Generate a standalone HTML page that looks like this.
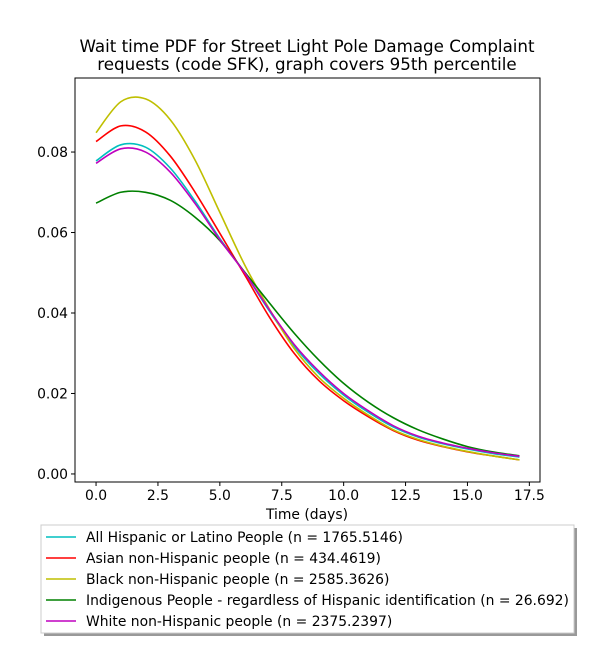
<!DOCTYPE html>
<html><head><meta charset="utf-8"><style>
body{margin:0;background:#fff;}
svg text{font-family:"DejaVu Sans","Liberation Sans",sans-serif;fill:#000;}
</style></head><body>
<svg id="chart" width="600" height="650">
<rect x="0" y="0" width="600" height="650" fill="#fff"/>
<text x="307" y="52" font-size="16.7" text-anchor="middle">Wait time PDF for Street Light Pole Damage Complaint</text>
<text x="307" y="70" font-size="16.7" text-anchor="middle">requests (code SFK), graph covers 95th percentile</text>
<g id="plot"></g>
<text x="307" y="519" font-size="13.9" text-anchor="middle">Time (days)</text>
<g id="legend"></g>
</svg>
<script>
const xs=[0,1,2,3,4,5,6,7,8,9,10,11,12,13,14,15,16,17.1];
const seriesNames=["All Hispanic or Latino People (n = 1765.5146)","Asian non-Hispanic people (n = 434.4619)","Black non-Hispanic people (n = 2585.3626)","Indigenous People - regardless of Hispanic identification (n = 26.692)","White non-Hispanic people (n = 2375.2397)"];
const seriesColors=["#00bfbf","#ff0000","#bfbf00","#008000","#bf00bf"];
const hispanic=[.0778,.0818,.0812,.0760,.0678,.0585,.0500,.0405,.0318,.0250,.0196,.0153,.0117,.0092,.0075,.0062,.0051,.0042];
const asian=[.0826,.0865,.0850,.0790,.0700,.0598,.0495,.0390,.0300,.0232,.0182,.0142,.0108,.0084,.0068,.0055,.0045,.0035];
const black=[.0848,.0925,.0932,.0880,.0780,.0650,.0520,.0410,.0312,.0240,.0188,.0146,.0110,.0086,.0069,.0056,.0045,.0035];
const indigenous=[.0673,.0700,.0700,.0680,.0638,.0580,.0502,.0425,.0350,.0283,.0225,.0178,.0140,.0110,.0087,.0068,.0055,.0045];
const white=[.0772,.0808,.0800,.0750,.0672,.0582,.0500,.0408,.0322,.0255,.0200,.0157,.0120,.0094,.0077,.0064,.0053,.0044];
const xTicks=[0,2.5,5,7.5,10,12.5,15,17.5];
const xTickLabels=["0.0","2.5","5.0","7.5","10.0","12.5","15.0","17.5"];
const yTicks=[0,0.02,0.04,0.06,0.08];
const yTickLabels=["0.00","0.02","0.04","0.06","0.08"];
const allSeries=[hispanic,asian,black,indigenous,white];
const NS="http://www.w3.org/2000/svg";
const L=75,R=540,T=78,B=482;
const xMin=-0.85,xMax=17.93,yMin=-0.002,yMax=0.0984;
const sx=v=>L+(v-xMin)/(xMax-xMin)*(R-L);
const sy=v=>B-(v-yMin)/(yMax-yMin)*(B-T);
const plot=document.getElementById('plot');
function mk(t,a,p){const e=document.createElementNS(NS,t);for(const k in a)e.setAttribute(k,a[k]);(p||plot).appendChild(e);return e;}
function pathFor(ys){const p=xs.map((x,i)=>[sx(x),sy(ys[i])]);let d=`M${p[0][0]},${p[0][1]}`;
for(let i=0;i<p.length-1;i++){const p0=p[Math.max(0,i-1)],p1=p[i],p2=p[i+1],p3=p[Math.min(p.length-1,i+2)];
d+=` C${p1[0]+(p2[0]-p0[0])/6},${p1[1]+(p2[1]-p0[1])/6} ${p2[0]-(p3[0]-p1[0])/6},${p2[1]-(p3[1]-p1[1])/6} ${p2[0]},${p2[1]}`;}return d;}
allSeries.forEach((ys,i)=>{const e=mk('path',{d:pathFor(ys),fill:'none',stroke:seriesColors[i],'stroke-width':1.6});

});
const frame=mk('rect',{x:L,y:T,width:R-L,height:B-T,fill:'none',stroke:'#000','stroke-width':1});


xTicks.forEach((v,i)=>{const x=sx(v);mk('line',{x1:x,x2:x,y1:B,y2:B+4,stroke:'#000'});
const t=mk('text',{x:x,y:B+18,'font-size':13.9,'text-anchor':'middle'});t.textContent=xTickLabels[i];

});
yTicks.forEach((v,i)=>{const y=sy(v);mk('line',{x1:L-4,x2:L,y1:y,y2:y,stroke:'#000'});
const t=mk('text',{x:L-7,y:y+5,'font-size':13.9,'text-anchor':'end'});t.textContent=yTickLabels[i];

});
const lg=document.getElementById('legend');


mk('rect',{x:44,y:528,width:533,height:108,fill:'#999'},lg);
mk('rect',{x:41,y:525,width:533,height:108,fill:'#fff',stroke:'#ccc'},lg);
seriesNames.forEach((n,i)=>{const y=537+i*21;
const l=mk('line',{x1:46,x2:76,y1:y,y2:y,stroke:seriesColors[i],'stroke-width':1.6},lg);


const t=mk('text',{x:86,y:y+5,'font-size':13.9},lg);t.textContent=n;

});
</script>
</body></html>
